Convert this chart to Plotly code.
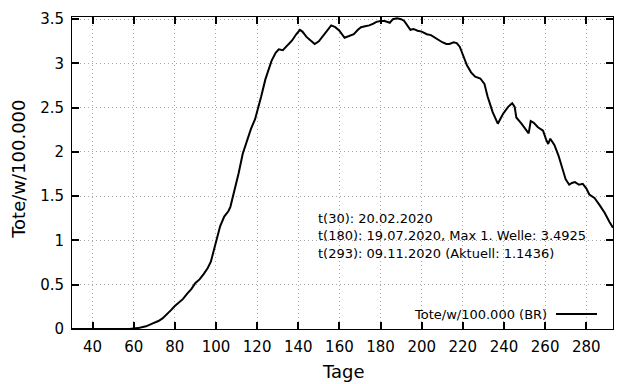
import plotly.graph_objects as go

days = [30, 40, 50, 58, 62, 66, 69, 72, 74, 76, 78, 80, 82, 84, 86, 88, 90, 92, 94, 96,
        97.5, 99, 100, 102, 104, 106, 107, 109, 111, 113, 115, 117, 119, 120.5, 122, 124,
        125.5, 127, 129, 130.5, 132.5, 134.5, 137, 139, 140.8, 142, 144, 146, 148, 150,
        152, 154, 156, 158, 160, 162.5, 164.5, 167, 169, 170.5, 172.5, 174.5, 176.5, 178,
        180, 182, 184.5, 186, 188, 190, 191.5, 193, 194.5, 196, 198, 200, 202.5, 204.5,
        206.5, 208.5, 210, 212, 213.5, 215.5, 217, 218.5, 220, 222, 224, 226, 228.5, 230.5,
        232, 234.5, 237, 239.5, 242, 244, 245.2, 246, 248.5, 251, 252, 253, 254.5, 256.5,
        259, 260.5, 261.5, 262.5, 264.5, 266.5, 268.5, 270, 271.7, 273, 274.5, 276.5, 278.3,
        280, 281.5, 284, 286.5, 289, 291.3, 293]
values = [0, 0, 0, 0, 0.01, 0.03, 0.06, 0.09, 0.12, 0.16, 0.21, 0.26, 0.30, 0.34, 0.40,
          0.45, 0.52, 0.56, 0.62, 0.69, 0.76, 0.90, 1.00, 1.16, 1.27, 1.33, 1.38, 1.56,
          1.76, 1.98, 2.12, 2.26, 2.37, 2.49, 2.63, 2.82, 2.93, 3.03, 3.12, 3.16, 3.15,
          3.20, 3.26, 3.33, 3.38, 3.36, 3.30, 3.26, 3.22, 3.25, 3.31, 3.38, 3.43, 3.41,
          3.37, 3.29, 3.31, 3.33, 3.38, 3.41, 3.42, 3.43, 3.45, 3.47, 3.48, 3.48, 3.46,
          3.50, 3.51, 3.50, 3.48, 3.43, 3.38, 3.39, 3.37, 3.36, 3.33, 3.32, 3.29, 3.26,
          3.24, 3.22, 3.22, 3.24, 3.23, 3.19, 3.09, 2.98, 2.90, 2.85, 2.83, 2.77, 2.63,
          2.45, 2.32, 2.43, 2.51, 2.55, 2.51, 2.39, 2.32, 2.24, 2.21, 2.35, 2.33, 2.28,
          2.24, 2.14, 2.09, 2.15, 2.08, 1.96, 1.81, 1.69, 1.63, 1.65, 1.66, 1.63, 1.64,
          1.59, 1.52, 1.48, 1.40, 1.31, 1.21, 1.1436]

x_ticks = [40, 60, 80, 100, 120, 140, 160, 180, 200, 220, 240, 260, 280]
y_ticks = [0, 0.5, 1, 1.5, 2, 2.5, 3, 3.5]
y_tick_labels = ["0", "0.5", "1", "1.5", "2", "2.5", "3", "3.5"]
series_name = "Tote/w/100.000 (BR)"
info_lines = ["t(30): 20.02.2020",
              "t(180): 19.07.2020, Max 1. Welle: 3.4925",
              "t(293): 09.11.2020 (Aktuell: 1.1436)"]

FONT = "DejaVu Sans"
OFF = 8  # page body margin offset
L, R, T, B = 72, 613, 17, 329.3  # target plot-area edges in window pixels
PW, PH = R - L, B - T


def px(xp):
    return (xp - L) / PW


def py(yp):
    return (B - yp) / PH


fig = go.Figure()
fig.add_trace(go.Scatter(x=days, y=values, mode="lines", name=series_name,
                         line=dict(color="black", width=2), showlegend=False))

axis_common = dict(showline=True, linecolor="black", linewidth=1, mirror="ticks",
                   ticks="inside", ticklen=7, tickcolor="black", tickwidth=1.5,
                   showgrid=True, gridcolor="#a8a8a8", griddash="1px,3px", gridwidth=1,
                   zeroline=False, automargin=False,
                   tickfont=dict(family=FONT, size=15, color="black"))

fig.update_xaxes(range=[30, 293], tickvals=x_ticks, ticklabelstandoff=4, **axis_common)
fig.update_yaxes(range=[0, 3.525], tickvals=y_ticks, ticktext=y_tick_labels,
                 ticklabelstandoff=4, **axis_common)

# axis titles as positioned text
fig.add_annotation(x=px(343), y=py(372), xref="paper", yref="paper", text="Tage",
                   showarrow=False, xanchor="center", yanchor="middle",
                   font=dict(family=FONT, size=18, color="black"))
fig.add_annotation(x=px(19), y=py(170), xref="paper", yref="paper", text="Tote/w/100.000",
                   showarrow=False, xanchor="center", yanchor="middle", textangle=-90,
                   borderpad=0,
                   font=dict(family=FONT, size=18, color="black"))

# info text
for i, line in enumerate(info_lines):
    fig.add_annotation(x=px(316), y=py(218.5 + 17.5 * i),
                       xref="paper", yref="paper", text=line, showarrow=False,
                       xanchor="left", yanchor="middle",
                       font=dict(family=FONT, size=13, color="black"))

# legend (gnuplot style: text then line sample)
leg_y = py(314.3)
fig.add_annotation(x=px(549), y=leg_y, xref="paper", yref="paper",
                   text=series_name, showarrow=False, xanchor="right", yanchor="middle",
                   font=dict(family=FONT, size=13, color="black"))
fig.add_shape(type="line", xref="paper", yref="paper",
              x0=px(556), x1=px(597), y0=leg_y, y1=leg_y,
              line=dict(color="black", width=2))

fig.update_layout(width=640, height=384,
                  margin=dict(l=L - OFF, r=640 - R + OFF, t=T - OFF, b=384 - B + OFF),
                  paper_bgcolor="white", plot_bgcolor="white",
                  font=dict(family=FONT, color="black"))

fig.write_html("out.html")
